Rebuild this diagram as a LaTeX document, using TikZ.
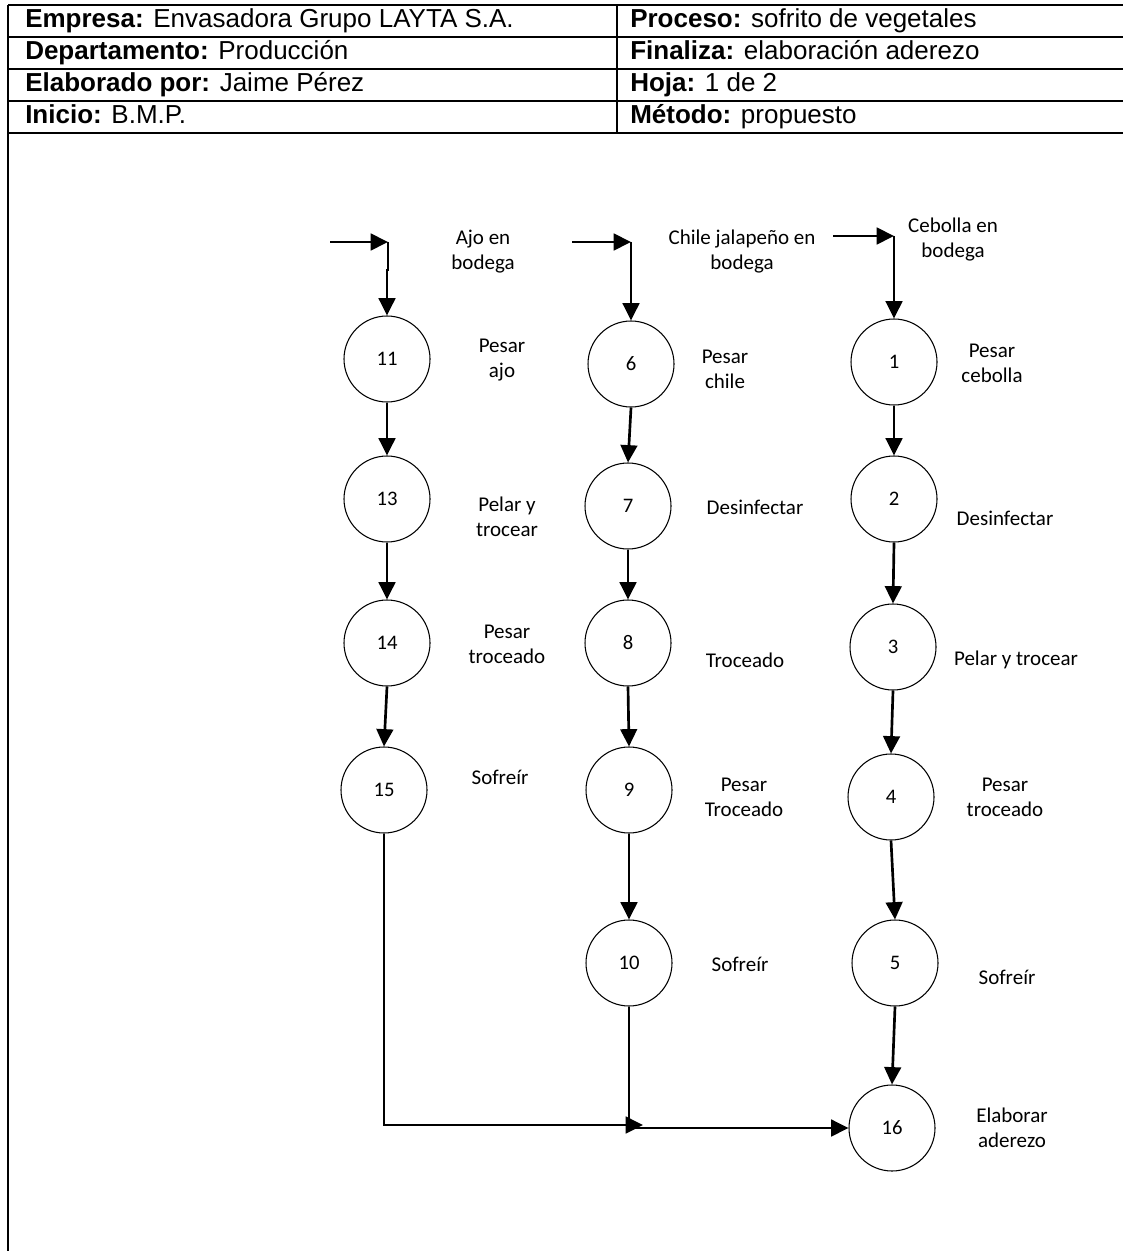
\documentclass[tikz,border=0pt]{standalone}
\usepackage{fontspec}
\setmainfont{Carlito}
\newfontfamily\hdrfont{Liberation Sans}
\usetikzlibrary{arrows.meta}
\begin{document}
\begin{tikzpicture}[x=0.75pt,y=-0.75pt,
  frameline/.style={line width=1.6pt},
  proc/.style={circle, draw, line width=0.8pt, minimum size=64.5pt, inner sep=0pt, font=\fontsize{15.5}{18}\selectfont},
  lbl/.style={align=center, inner sep=0pt, font=\fontsize{15.75}{18.75}\selectfont},
  hdr/.style={anchor=base west, inner sep=0pt, font=\hdrfont\fontsize{19.5}{23}\selectfont},
  flow/.style={line width=2pt, -{Triangle[length=13pt,width=12.5pt]}},
  plainline/.style={line width=2pt}]
\useasboundingbox (0,0) rectangle (1123,1251);
% header table
\foreach \yy in {5,37,69,101,133} \draw[frameline] (8,\yy) -- (1123,\yy);
\draw[frameline] (617,5) -- (617,133);
\draw[frameline] (8,5) -- (8,1251);
\node[hdr] (h1) at (25,28) {\textbf{Empresa:} Envasadora Grupo LAYTA S.A.};
\node[hdr] (h2) at (25,60) {\textbf{Departamento:} Producción};
\node[hdr] (h3) at (25,92) {\textbf{Elaborado por:} Jaime Pérez};
\node[hdr] (h4) at (25,124) {\textbf{Inicio:} B.M.P.};
\node[hdr] (h5) at (630,28) {\textbf{Proceso:} sofrito de vegetales};
\node[hdr] (h6) at (630,60) {\textbf{Finaliza:} elaboración aderezo};
\node[hdr] (h7) at (630,92) {\textbf{Hoja:} 1 de 2};
\node[hdr] (h8) at (630,124) {\textbf{Método:} propuesto};
% circles
\node[proc] (n11) at (387,359) {11};
\node[proc] (n13) at (387,499) {13};
\node[proc] (n14) at (387,643) {14};
\node[proc] (n15) at (384,790) {15};
\node[proc] (n6) at (631,364) {6};
\node[proc] (n7) at (628,506) {7};
\node[proc] (n8) at (628,643) {8};
\node[proc] (n9) at (629,790) {9};
\node[proc] (n10) at (629,963) {10};
\node[proc] (n1) at (894,362) {1};
\node[proc] (n2) at (894,499) {2};
\node[proc] (n3) at (893,647) {3};
\node[proc] (n4) at (891,797) {4};
\node[proc] (n5) at (895,963) {5};
\node[proc] (n16) at (892,1128) {16};
% labels
\node[lbl] (tajo) at (483,252) {Ajo en\\bodega};
\node[lbl] (tchile) at (742,252) {Chile jalapeño en\\bodega};
\node[lbl] (tceb) at (953,240) {Cebolla en\\bodega};
\node[lbl] (t11) at (502,360) {Pesar\\ajo};
\node[lbl] (t6) at (725,369) {Pesar\\chile};
\node[lbl] (t1) at (992,363) {Pesar\\cebolla};
\node[lbl] (t13) at (507,517) {Pelar y\\trocear};
\node[lbl] (t7) at (755,507) {Desinfectar};
\node[lbl] (t2) at (1005,518) {Desinfectar};
\node[lbl] (t14) at (507,644) {Pesar\\troceado};
\node[lbl] (t8) at (745,660) {Troceado};
\node[lbl] (t3) at (1016,660) {Pelar y trocear};
\node[lbl] (t15) at (500,777) {Sofreír};
\node[lbl] (t9) at (744,797) {Pesar\\Troceado};
\node[lbl] (t4) at (1005,797) {Pesar\\troceado};
\node[lbl] (t10) at (740,964) {Sofreír};
\node[lbl] (t5) at (1007,977) {Sofreír};
\node[lbl] (t16) at (1012,1128) {Elaborar\\aderezo};
% entry arrows
\coordinate (a0) at (330,242);
\coordinate (a1) at (388,242);
\coordinate (a2) at (388,270);
\coordinate (a3) at (387,270);
\draw[flow] (a0) -- (a1);
\draw[flow] (a1) -- (a2) -- (a3) -- (n11.north);
\coordinate (b0) at (572,242);
\coordinate (b1) at (631,242);
\draw[flow] (b0) -- (b1);
\draw[flow] (b1) -- (n6.north);
\coordinate (c0) at (833,236);
\coordinate (c1) at (894,236);
\draw[flow] (c0) -- (c1);
\draw[flow] (c1) -- (n1.north);
% column flows
\draw[flow] (n11.south) -- (n13.north);
\draw[flow] (n13.south) -- (n14.north);
\draw[flow] (n14.south) -- (n15.north);
\draw[flow] (n6.south) -- (n7.north);
\draw[flow] (n7.south) -- (n8.north);
\draw[flow] (n8.south) -- (n9.north);
\draw[flow] (n9.south) -- (n10.north);
\draw[flow] (n1.south) -- (n2.north);
\draw[flow] (n2.south) -- (n3.north);
\draw[flow] (n3.south) -- (n4.north);
\draw[flow] (n4.south) -- (n5.north);
\draw[flow] (n5.south) -- (n16.north);
% bottom joins
\coordinate (j1) at (643,1125);
\draw[flow] (n15.south) |- (j1);
\draw[flow] (n10.south) |- (n16.west);
\end{tikzpicture}
\end{document}
